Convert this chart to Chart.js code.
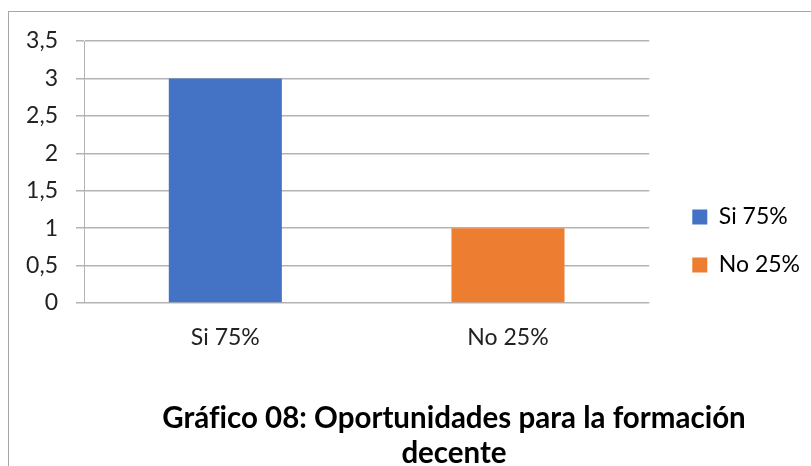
<!DOCTYPE html>
<html>
<head>
<meta charset="utf-8">
<script src="https://cdn.jsdelivr.net/npm/chart.js@4"></script>
<style>
  html, body { margin: 0; width: 811px; height: 466px; overflow: hidden; background: #fff; }
  #marco { position: absolute; left: 8px; top: 11px; width: 950px; height: 520px; border: 1px solid #a6a6a6; }
  #grafico { position: absolute; left: 0; top: 0; }
  #titulo { position: absolute; left: 0; top: 399px; width: 908px; text-align: center;
            font: bold 29.5px Lato, sans-serif; line-height: 35px; color: #000;
            font-variant-ligatures: none; }
</style>
</head>
<body>
<div id="marco"></div>
<canvas id="grafico" width="811" height="466"></canvas>
<div id="titulo">Gráfico 08: Oportunidades para la formación<br>decente</div>
<script>
var categorias = ['Si 75%', 'No 25%'];
var valores = [3, 1];
var colores = ['#4472C4', '#ED7D31'];
var etiquetasY = ['0', '0,5', '1', '1,5', '2', '2,5', '3', '3,5'];

var fuente = 'Lato';
var tam = 23;

// ancho de la leyenda para dejarla donde va
var c = document.createElement('canvas').getContext('2d');
c.font = tam + 'px ' + fuente;
var maxTexto = 0;
categorias.forEach(function(t) { maxTexto = Math.max(maxTexto, c.measureText(t).width); });
var anchoLeyenda = 25 + 15 + tam / 2 + maxTexto + 10;
var padDerecho = Math.max(0, 811 - 668 - anchoLeyenda + 10);

var ctx = document.getElementById('grafico').getContext('2d');
new Chart(ctx, {
  type: 'bar',
  data: {
    labels: categorias,
    datasets: [{
      label: 'Serie',
      data: valores,
      backgroundColor: colores,
      borderWidth: 0,
      barPercentage: 0.4,
      categoryPercentage: 1.0
    }]
  },
  options: {
    responsive: false,
    animation: false,
    layout: { padding: { top: 41, bottom: 25, left: 0, right: padDerecho } },
    plugins: {
      tooltip: { enabled: false },
      title: { display: false },
      legend: {
        position: 'right',
        labels: {
          boxWidth: 15,
          boxHeight: 15,
          padding: 25,
          color: '#222',
          font: { family: fuente, size: tam },
          generateLabels: function(chart) {
            return categorias.map(function(cat, i) {
              return { text: cat, fillStyle: colores[i], strokeStyle: colores[i], lineWidth: 0, hidden: false, index: i };
            });
          }
        }
      }
    },
    scales: {
      x: {
        grid: { display: false },
        border: { display: false },
        ticks: { padding: 13, color: '#222', font: { family: fuente, size: tam } },
        afterFit: function(s) { s.height = 138; }
      },
      y: {
        min: 0,
        max: 3.5,
        grid: { color: '#b3b3b3', lineWidth: 1.5, tickLength: 8, drawTicks: true },
        border: { display: true, color: '#b3b3b3', width: 1 },
        ticks: {
          stepSize: 0.5,
          padding: 18,
          color: '#222',
          font: { family: fuente, size: tam },
          callback: function(v, i) { return etiquetasY[i]; }
        },
        afterFit: function(s) { s.width = 84; }
      },
      hueco: {
        type: 'linear',
        position: 'right',
        display: true,
        grid: { display: false, drawTicks: false },
        border: { display: false },
        ticks: { display: false },
        afterFit: function(s) { s.width = 18; }
      }
    }
  }
});
</script>
</body>
</html>
